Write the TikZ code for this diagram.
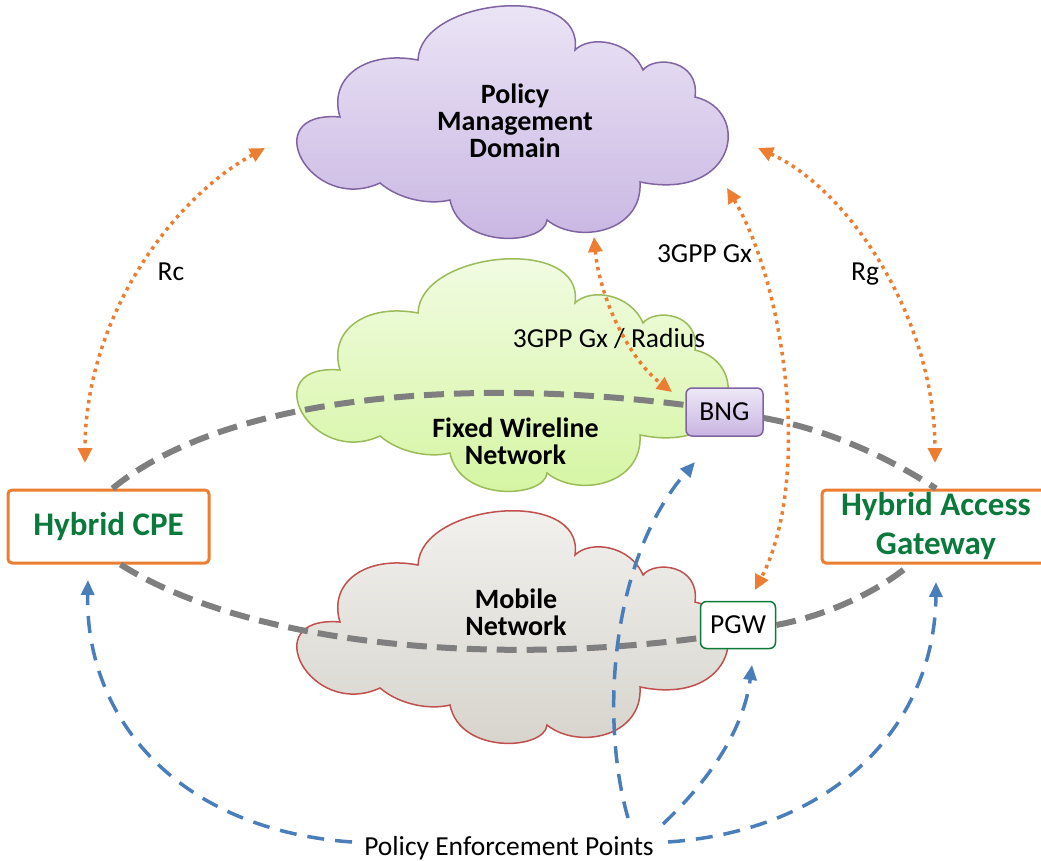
\documentclass[tikz,border=0pt]{standalone}
\usepackage{fontspec}
\setmainfont{Carlito}
\usetikzlibrary{arrows.meta,calc}
\definecolor{orng}{HTML}{ED7D31}
\definecolor{blu}{HTML}{4A7EBB}
\definecolor{gry}{HTML}{7F7F7F}
\definecolor{grn}{HTML}{0A7A3C}
\definecolor{purp}{HTML}{8064A2}
\definecolor{lavtop}{HTML}{EEE8F7}
\definecolor{lavbot}{HTML}{C8B5E2}
\definecolor{fgreen}{HTML}{9BBB59}
\definecolor{fgtop}{HTML}{F4FCE8}
\definecolor{fgbot}{HTML}{D4F5A0}
\definecolor{mred}{HTML}{C0504D}
\definecolor{mtop}{HTML}{F4F3F0}
\definecolor{mbot}{HTML}{D6D3CC}
\definecolor{pgwgreen}{HTML}{0E7A3A}
\newcommand\cloudpath{(340,117) .. controls (328,78) and (365,50) .. (418,60)
  .. controls (420,-2) and (585,-18) .. (575,50)
  .. controls (590,35) and (630,40) .. (643,70)
  .. controls (655,55) and (700,60) .. (695,97)
  .. controls (752,110) and (737,202) .. (640,182)
  .. controls (643,232) and (578,245) .. (547,220)
  .. controls (545,245) and (460,250) .. (450,200)
  .. controls (430,205) and (400,200) .. (380,183)
  .. controls (310,215) and (255,110) .. (340,117) -- cycle}
\tikzset{
  cloudtxt/.style={align=center, font=\fontsize{28}{27}\selectfont\bfseries, inner sep=0pt},
  lbl/.style={font=\fontsize{27.5}{30}\selectfont, inner sep=0pt, anchor=base},
  hybrid/.style={draw=orng, line width=3pt, fill=white, rounded corners=4pt, inner sep=0pt,
    minimum height=73pt, text=grn, font=\fontsize{33}{39}\selectfont\bfseries, align=center},
  gwbox/.style={rounded corners=6pt, line width=1.5pt, inner sep=0pt,
    minimum width=77pt, minimum height=48pt, font=\fontsize{27.5}{30}\selectfont},
  greyline/.style={draw=gry, line width=6pt, dash pattern=on 20pt off 10pt},
  orangelink/.style={draw=orng, line width=3.5pt, dash pattern=on 3.5pt off 4.5pt,
    >={Triangle[length=15pt,width=14pt]}, <->},
  bluelink/.style={draw=blu, line width=3.5pt, dash pattern=on 17pt off 11pt,
    >={Triangle[length=15pt,width=13pt]}, ->},
}
\begin{document}
\begin{tikzpicture}[x=1pt,y=-1pt]
\useasboundingbox (0,0) rectangle (1041,861);
% clouds
\path[draw=purp, line width=1.5pt, top color=lavtop, bottom color=lavbot] \cloudpath;
\begin{scope}[shift={(0,253)}]
\path[draw=fgreen, line width=1.5pt, top color=fgtop, bottom color=fgbot] \cloudpath;
\end{scope}
\begin{scope}[shift={(0,505)}]
\path[draw=mred, line width=1.5pt, top color=mtop, bottom color=mbot] \cloudpath;
\end{scope}
\node[cloudtxt] (pmd) at (515,121) {Policy\\Management\\Domain};
\node[cloudtxt] (fwn) at (515.5,441) {Fixed Wireline\\Network};
\node[cloudtxt] (mob) at (516,612) {Mobile\\Network};
% boxes
\node[hybrid, minimum width=201pt] (cpe) at (108.5,526.5) {Hybrid CPE};
\node[hybrid, minimum width=228pt] (hag) at (936,526.5) {Hybrid Access\\Gateway};
\node[gwbox, draw=purp, top color=lavtop, bottom color=lavbot] (bng) at (724.5,412) {BNG};
\node[gwbox, draw=pgwgreen, fill=white, minimum width=75pt, minimum height=47pt] (pgw) at (738,625) {PGW};
% labels
\node[lbl] (rc) at (171,280) {Rc};
\node[lbl] (rg) at (865,280) {Rg};
\node[lbl] (gx) at (704.5,262) {3GPP Gx};
\node[lbl] (gxr) at (609,347) {3GPP Gx / Radius};
\node[lbl] (pep) at (509,855) {Policy Enforcement Points};
% grey data paths
\draw[greyline] ($(cpe.north)+(4,0)$) .. controls (220,400) and (450,375) .. ($(bng.west)+(0,-7)$);
\draw[greyline] ($(bng.east)+(0,6)$) .. controls (820,428) and (880,452) .. (hag.north);
\draw[greyline] ($(cpe.south)+(12,0)$) .. controls (240,640) and (470,668) .. ($(pgw.west)+(0,13)$);
\draw[greyline] (pgw.east) .. controls (830,615) and (880,590) .. ($(hag.south)+(-26,0)$);
% orange policy interfaces
\coordinate (rcA) at (265,148);
\coordinate (rcB) at (85,463);
\coordinate (rgA) at (758,148);
\coordinate (rgB) at (935,463);
\coordinate (gxA) at (727,188);
\coordinate (gxB) at (755,590);
\coordinate (grA) at (594,237);
\coordinate (grB) at (672,392);
\draw[orangelink] (rcA) .. controls (170,200) and (85,320) .. (rcB);
\draw[orangelink] (rgA) .. controls (850,190) and (935,320) .. (rgB);
\draw[orangelink] (gxA) .. controls (785,285) and (812,480) .. (gxB);
\draw[orangelink] (grA) .. controls (600,300) and (630,360) .. (grB);
% blue enforcement points
\coordinate (p1) at (352,842);
\coordinate (p2) at (668,842);
\coordinate (p3) at (628,818);
\coordinate (p4) at (663,824);
\coordinate (t1) at (88,580);
\coordinate (t2) at (936,582);
\coordinate (t3) at (695,462);
\coordinate (t4) at (752,665);
\draw[bluelink] (p1) .. controls (180,830) and (85,720) .. (t1);
\draw[bluelink] (p2) .. controls (840,830) and (935,720) .. (t2);
\draw[bluelink] (p3) .. controls (600,720) and (610,560) .. (t3);
\draw[bluelink] (p4) .. controls (720,770) and (745,720) .. (t4);
\end{tikzpicture}
\end{document}
